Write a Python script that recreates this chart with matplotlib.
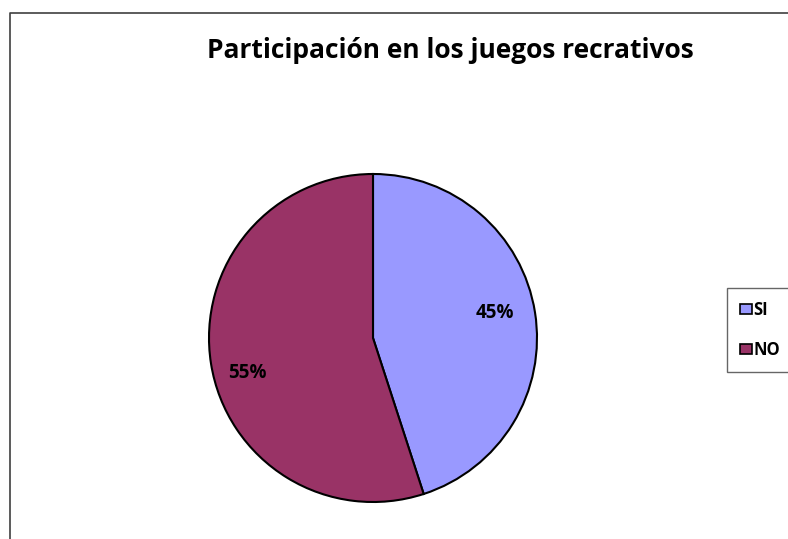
import matplotlib.pyplot as plt
from matplotlib.patches import Patch

labels = ["SI", "NO"]
values = [45, 55]
colors = ["#9999FF", "#993366"]
title = "Participación en los juegos recrativos"

W, H = 788, 539
plt.rcParams["font.family"] = ["Open Sans", "DejaVu Sans"]

fig = plt.figure(figsize=(W / 100, H / 100), dpi=100)
ax = fig.add_axes([0, 0, 1, 1])
ax.set_xlim(0, W)
ax.set_ylim(0, H)
ax.set_aspect("equal")
ax.axis("off")

# chart frame (only left and top edges visible in the crop)
ax.plot([10.5, 10.5, W + 5], [-5, H - 12.5, H - 12.5], color="#404040", lw=1.2)

cx, cy, r = 373, H - 338, 164
wedges, _, autotexts = ax.pie(
    values, colors=colors, startangle=90, counterclock=False,
    center=(cx, cy), radius=r, autopct="%1.0f%%", pctdistance=0.77,
    wedgeprops=dict(edgecolor="black", linewidth=1.5),
    textprops=dict(fontsize=13.5, fontweight="bold", color="black"),
)
# nudge labels to where the original chart puts them
autotexts[0].set_position((cx + 122, cy + 25))
autotexts[1].set_position((cx - 126, cy - 35))
ax.set_xlim(0, W)
ax.set_ylim(0, H)

ax.text(450, H - 50, title, ha="center", va="center", fontsize=19, fontweight="bold")

handles = [Patch(facecolor=c, edgecolor="black", linewidth=1.2) for c in colors]
leg = ax.legend(handles, labels, loc="upper left", bbox_to_anchor=(727 / W, 1 - 288 / H),
                frameon=True, fancybox=False, handlelength=0.7, handleheight=0.55,
                handletextpad=0.1, labelspacing=1.3, borderpad=0.8, borderaxespad=0,
                prop=dict(weight="bold", size=12))
leg.get_frame().set_edgecolor("#404040")
leg.get_frame().set_linewidth(1.0)

fig.savefig("out.png", dpi=100)
